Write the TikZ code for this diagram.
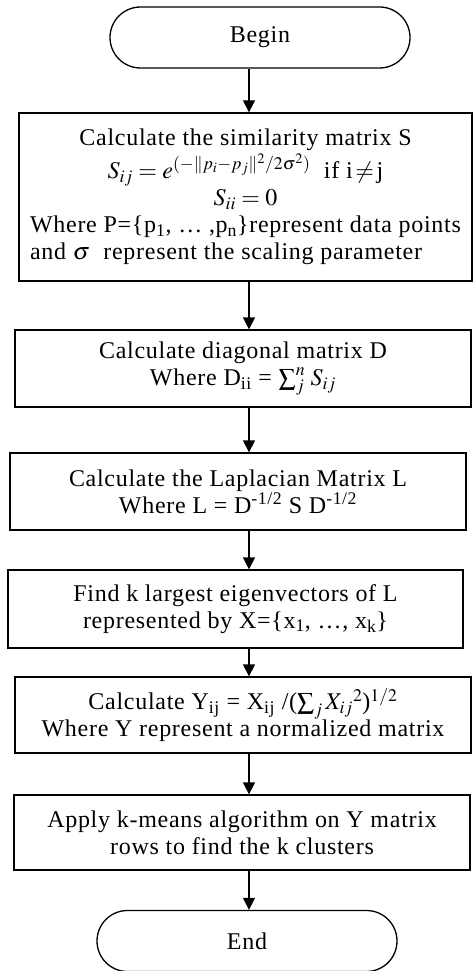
\documentclass[tikz,border=0pt]{standalone}
\usepackage{mathptmx}
\usepackage{fontspec}
\setmainfont{Liberation Serif}[LetterSpace=3]
\usetikzlibrary{shapes.misc,arrows.meta}

\tikzset{
  stepbox/.style={draw, line width=1.3pt, minimum width=456pt, minimum height=77pt, inner sep=0pt, align=center},
  term/.style={draw, rounded rectangle, line width=1.3pt, minimum width=300pt, minimum height=61pt, inner sep=0pt},
  arr/.style={line width=1.3pt, -{Triangle[width=12pt,length=12pt]}}
}

\begin{document}
\begin{tikzpicture}[x=1pt,y=-1pt,font=\fontsize{24}{27}\selectfont]
  \useasboundingbox (0,0) rectangle (472,971);
  % terminals
  \node[term] (begin) at (260,37.5) {Begin};
  \node[term] (end) at (247,941) {End};
  % steps
  \node[stepbox, minimum width=453pt, minimum height=168pt] (simil) at (245.5,197) {%
    \begin{tabular}{@{}l@{}}
    \multicolumn{1}{@{}c@{}}{Calculate the similarity matrix S}\\
    \multicolumn{1}{@{}c@{}}{$S_{ij} = e^{(-\|p_i-p_j\|^2/2\sigma^2)}$\ \ if i$\,\neq\,$j}\\
    \multicolumn{1}{@{}c@{}}{$S_{ii} = 0$}\\
    Where P=\{p\textsubscript{1}, \dots\ ,p\textsubscript{n}\}represent data points\\
    and $\sigma$\ \ represent the scaling parameter
    \end{tabular}};
  \node[stepbox] (diag) at (243,368.5) {Calculate diagonal matrix D\\ Where D\textsubscript{ii} = $\sum_j^n\, S_{ij}$};
  \node[stepbox] (lapl) at (238,491.5) {Calculate the Laplacian Matrix L\\ Where L = D\textsuperscript{-1/2} S D\textsuperscript{-1/2}};
  \node[stepbox, minimum width=455pt, minimum height=78pt] (eigen) at (235.5,609) {Find k largest eigenvectors of L\\ represented by X=\{x\textsubscript{1}, \dots, x\textsubscript{k}\}};
  \node[stepbox, minimum height=76pt] (norm) at (243,715) {Calculate Y\textsubscript{ij} = X\textsubscript{ij} /($\sum_j X_{ij}{}^2$)$^{1/2}$\\ Where Y represent a normalized matrix};
  \node[stepbox, minimum height=75pt] (kmeans) at (242,832.5) {Apply k-means algorithm on Y matrix\\ rows to find the k clusters};
  % arrows
  \coordinate (axis) at (249,0);
  \draw[arr] (begin.south -| axis) -- (simil.north -| axis);
  \draw[arr] (simil.south -| axis) -- (diag.north -| axis);
  \draw[arr] (diag.south -| axis) -- (lapl.north -| axis);
  \draw[arr] (lapl.south -| axis) -- (eigen.north -| axis);
  \draw[arr] (eigen.south -| axis) -- (norm.north -| axis);
  \draw[arr] (norm.south -| axis) -- (kmeans.north -| axis);
  \draw[arr] (kmeans.south -| axis) -- (end.north -| axis);
\end{tikzpicture}
\end{document}
